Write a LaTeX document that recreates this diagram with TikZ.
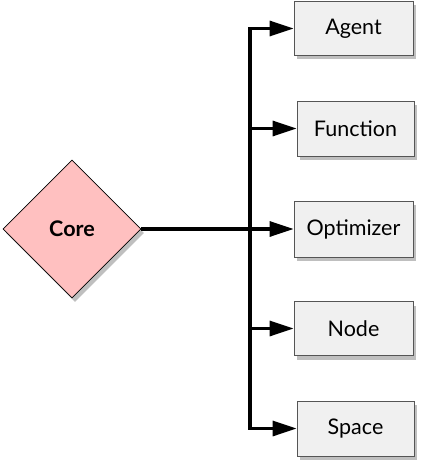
\documentclass[tikz,border=0pt]{standalone}
\usepackage{fontspec}
\setmainfont{Lato}
\usetikzlibrary{shapes.geometric,shadows,arrows.meta}
\definecolor{boxfill}{HTML}{F0F0F0}
\definecolor{boxline}{HTML}{555555}
\definecolor{corefill}{HTML}{FFC0C0}
\begin{document}
\begin{tikzpicture}[x=1pt,y=-1pt,
  sbox/.style={draw=boxline,fill=boxfill,line width=0.8pt,minimum height=54pt,
    font=\fontsize{21.5}{24}\selectfont,inner sep=0pt,
    drop shadow={shadow xshift=3pt,shadow yshift=-4pt,opacity=0.25,fill=black}},
  corebox/.style={diamond,draw=black,fill=corefill,line width=0.8pt,
    minimum width=138pt,minimum height=138pt,inner sep=0pt,aspect=1,
    font=\bfseries\fontsize{21.5}{24}\selectfont,
    drop shadow={shadow xshift=3pt,shadow yshift=-4pt,opacity=0.25,fill=black}},
  conn/.style={line width=3.2pt,line join=miter,
    -{Triangle[length=24pt,width=15pt]}}]
\useasboundingbox (0,0) rectangle (422,468);
\node[corebox] (core) at (72,229) {Core};
\node[sbox,minimum width=119pt] (agent) at (353.5,28.5) {Agent};
\node[sbox,minimum width=117pt,minimum height=55pt] (function) at (355.5,128.5) {Function};
\node[sbox,minimum width=119pt,minimum height=56pt] (optimizer) at (353.5,229) {Optimizer};
\node[sbox,minimum width=119pt] (nodebox) at (353.5,328.5) {Node};
\node[sbox,minimum width=117pt,minimum height=55pt] (space) at (355.5,428.5) {Space};
\coordinate (jt) at (250,28.5);
\coordinate (jb) at (250,428.5);
\draw[conn] (jb) -- (jt) -- (agent.west);
\draw[conn] (jt) -- (jb) -- (space.west);
\draw[conn] (core.east) -- (optimizer.west);
\draw[conn] (jt |- function.west) -- (function.west);
\draw[conn] (jt |- nodebox.west) -- (nodebox.west);
\end{tikzpicture}
\end{document}
